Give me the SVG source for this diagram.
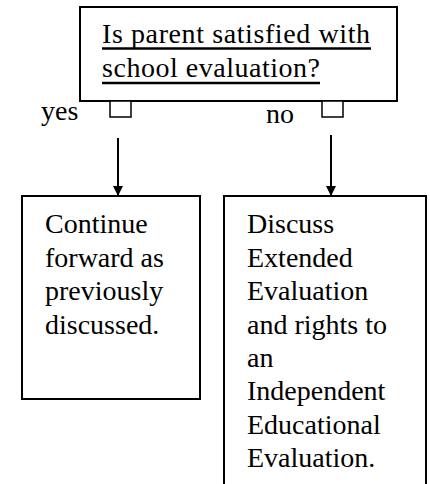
<svg xmlns="http://www.w3.org/2000/svg" width="430" height="484" viewBox="0 0 430 484">
<style>
.box{fill:#fff;stroke:#000;stroke-width:2}
.sq{fill:#fff;stroke:#000;stroke-width:1.5}
.t{font-family:"Times New Roman","Liberation Serif",serif;font-size:28px;fill:#000}
.ul{stroke:#000;stroke-width:2.5}
.c{stroke:#000;stroke-width:2;fill:none}
</style>
<defs>
<marker id="ah" viewBox="0 0 10 10" refX="10" refY="5" markerWidth="5" markerHeight="5" markerUnits="strokeWidth" orient="auto">
<path d="M0,0 L10,5 L0,10 z" fill="#000"/>
</marker>
</defs>
<g id="decision">
<rect class="box" x="80" y="7" width="317" height="94"/>
<text class="t" x="102" y="43" textLength="268">Is parent satisfied with</text>
<text class="t" x="102" y="77" textLength="218">school evaluation?</text>
<line class="ul" x1="102" y1="48.5" x2="371" y2="48.5"/>
<line class="ul" x1="102" y1="83" x2="320" y2="83"/>
<rect class="sq" x="110" y="101" width="21" height="16"/>
<rect class="sq" x="322" y="101" width="21" height="16"/>
</g>
<g id="label-yes"><text class="t" x="41" y="120">yes</text></g>
<g id="label-no"><text class="t" x="266" y="123">no</text></g>
<g id="connectors">
<line class="c" x1="118" y1="138" x2="118" y2="196" marker-end="url(#ah)"/>
<line class="c" x1="331" y1="135" x2="331" y2="196" marker-end="url(#ah)"/>
</g>
<g id="continue">
<rect class="box" x="22" y="196" width="178" height="203"/>
<text class="t" x="45" y="233">Continue</text>
<text class="t" x="45" y="267">forward as</text>
<text class="t" x="45" y="300">previously</text>
<text class="t" x="45" y="334">discussed.</text>
</g>
<g id="discuss">
<rect class="box" x="224" y="196" width="202" height="300"/>
<text class="t" x="247" y="233">Discuss</text>
<text class="t" x="247" y="267">Extended</text>
<text class="t" x="247" y="300">Evaluation</text>
<text class="t" x="247" y="334">and rights to</text>
<text class="t" x="247" y="367">an</text>
<text class="t" x="247" y="400">Independent</text>
<text class="t" x="247" y="434">Educational</text>
<text class="t" x="247" y="467">Evaluation.</text>
</g>
</svg>
